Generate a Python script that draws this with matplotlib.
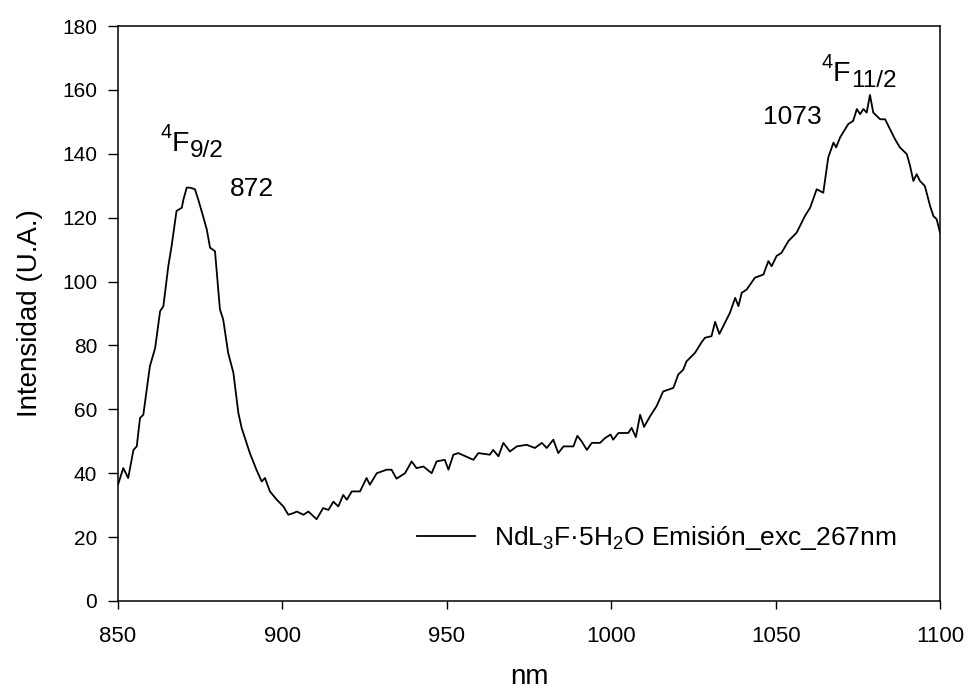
import matplotlib
matplotlib.use("Agg")
import matplotlib.pyplot as plt
from matplotlib.transforms import offset_copy

plt.rcParams['font.family'] = ['Liberation Sans', 'DejaVu Sans']
plt.rcParams['mathtext.fontset'] = 'custom'
plt.rcParams['mathtext.rm'] = 'Liberation Sans'
plt.rcParams['mathtext.it'] = 'Liberation Sans:italic'

# ---- data ----
wavelength = [850.0, 851.6, 853.1, 854.7, 855.7, 856.7, 857.7, 859.7, 861.3, 862.8,
              863.8, 865.3, 866.3, 867.8, 869.4, 869.9, 870.9, 871.9, 873.4, 874.4,
              876.0, 877.0, 878.0, 879.5, 881.0, 882.0, 883.5, 885.1, 886.6, 887.6,
              890.1, 892.1, 893.7, 894.7, 896.2, 898.3, 900.3, 901.8, 903.3, 904.4,
              906.4, 907.9, 910.4, 912.4, 914.0, 915.5, 917.0, 918.5, 919.6, 921.1,
              923.6, 925.6, 926.6, 928.7, 931.7, 933.2, 934.7, 937.3, 939.3, 940.8,
              942.9, 945.4, 946.9, 949.4, 950.5, 952.0, 953.5, 958.1, 959.6, 963.1,
              964.1, 965.7, 967.2, 969.2, 971.3, 974.3, 976.8, 978.9, 980.4, 982.4,
              983.9, 985.5, 988.5, 989.7, 991.0, 992.6, 994.1, 996.6, 998.1, 999.8,
              1000.6, 1002.2, 1005.2, 1006.2, 1007.5, 1008.8, 1010.0, 1011.8, 1013.8, 1015.8,
              1018.9, 1020.4, 1021.9, 1022.9, 1025.5, 1027.5, 1028.5, 1030.5, 1031.6, 1032.9,
              1034.6, 1036.1, 1037.7, 1038.7, 1039.7, 1041.2, 1043.7, 1046.3, 1047.8, 1048.8,
              1050.3, 1051.8, 1053.9, 1056.4, 1058.9, 1060.5, 1062.5, 1064.5, 1066.0, 1067.6,
              1068.4, 1069.6, 1072.1, 1073.6, 1074.7, 1075.7, 1076.7, 1077.7, 1078.7, 1079.7,
              1081.8, 1083.3, 1084.8, 1086.3, 1087.8, 1089.9, 1090.9, 1091.9, 1092.9, 1093.9,
              1095.4, 1097.0, 1098.0, 1099.0, 1100.0]
intensity = [36.4, 41.6, 38.5, 47.3, 48.4, 57.3, 58.3, 73.5, 79.2, 90.7,
             92.3, 104.8, 111.1, 122.1, 123.1, 125.7, 129.4, 129.4, 128.9, 125.7,
             120.0, 116.3, 110.6, 109.5, 91.3, 88.1, 77.7, 71.4, 58.9, 54.2,
             46.3, 41.1, 37.4, 38.5, 34.3, 31.7, 29.6, 27.0, 27.5, 28.0,
             27.0, 28.0, 25.6, 29.1, 28.5, 31.1, 29.6, 33.2, 31.7, 34.3,
             34.3, 38.5, 36.4, 40.0, 41.1, 41.1, 38.3, 40.0, 43.7, 41.6,
             42.1, 40.0, 43.7, 44.2, 41.1, 45.8, 46.3, 44.2, 46.3, 45.8,
             47.3, 45.3, 49.5, 46.8, 48.4, 48.9, 47.9, 49.5, 47.9, 50.5,
             46.3, 48.4, 48.4, 51.7, 50.0, 47.3, 49.5, 49.5, 51.0, 52.1,
             50.5, 52.6, 52.6, 54.2, 51.3, 58.3, 54.5, 57.8, 61.0, 65.6,
             66.7, 70.9, 72.4, 75.0, 77.7, 81.0, 82.4, 82.9, 87.4, 83.6,
             87.1, 90.2, 94.9, 92.3, 96.5, 97.5, 101.2, 102.2, 106.4, 104.8,
             108.0, 109.0, 112.7, 115.3, 120.5, 123.1, 128.9, 127.8, 138.8, 143.5,
             142.0, 145.1, 149.3, 150.3, 154.0, 152.4, 154.0, 152.9, 158.4, 152.9,
             150.8, 150.8, 147.7, 144.6, 142.0, 139.9, 136.2, 131.5, 133.6, 131.5,
             129.9, 123.6, 120.5, 119.5, 115.3]

x_ticks = [850, 900, 950, 1000, 1050, 1100]
y_ticks = [0, 20, 40, 60, 80, 100, 120, 140, 160, 180]
series_label = r'NdL$_3$F·5H$_2$O Emisión_exc_267nm'
peak_labels = ['872', '1073']
peak_label_pos = [(884.1, 126.7), (1046.1, 149.3)]
term_labels = [('4', 'F', '9/2'), ('4', 'F', '11/2')]
term_label_pos = [(862.8, 140.8), (1064.0, 162.8)]

# ---- figure ----
fig = plt.figure(figsize=(9.69, 6.94), dpi=100)
ax = fig.add_axes([118/969, 1 - 601/694, (940-118)/969, (601-26)/694])

ax.plot(wavelength, intensity, color='black', lw=1.3, label=series_label)
ax.set_xlim(850, 1100)
ax.set_ylim(0, 180)
ax.set_xticks(x_ticks)
ax.set_yticks(y_ticks)
ax.tick_params(axis='x', direction='out', length=6, width=1, labelsize=16, pad=12)
ax.tick_params(axis='y', direction='out', length=7, width=1, labelsize=15, pad=8)
for s in ax.spines.values():
    s.set_linewidth(1.1)

ax.set_xlabel('nm', fontsize=20, labelpad=12)
ax.set_ylabel('Intensidad (U.A.)', fontsize=20, labelpad=14)

ax.legend(loc='center left', bbox_to_anchor=((417-118)/822, (601-538)/575),
          frameon=False, fontsize=19, borderpad=0, borderaxespad=0,
          handlelength=2.2, handletextpad=0.7)

for txt, (px, py) in zip(peak_labels, peak_label_pos):
    ax.text(px, py, txt, fontsize=19, ha='left', va='baseline')

renderer = fig.canvas.get_renderer()
size = 20.5
for (sup, base, sub), (px, py) in zip(term_labels, term_label_pos):
    t1 = ax.text(px, py, sup, fontsize=size*0.7, ha='left', va='baseline',
                 transform=offset_copy(ax.transData, fig, x=0, y=size*0.45, units='points'))
    w1 = t1.get_window_extent(renderer).width * 72 / fig.dpi
    t2 = ax.text(px, py, base, fontsize=size, ha='left', va='baseline',
                 transform=offset_copy(ax.transData, fig, x=w1, y=0, units='points'))
    w2 = t2.get_window_extent(renderer).width * 72 / fig.dpi
    ax.text(px, py, sub, fontsize=size*0.85, ha='left', va='baseline',
            transform=offset_copy(ax.transData, fig, x=w1 + w2 + 0.5, y=-size*0.2, units='points'))

fig.savefig('out.png', dpi=100)
